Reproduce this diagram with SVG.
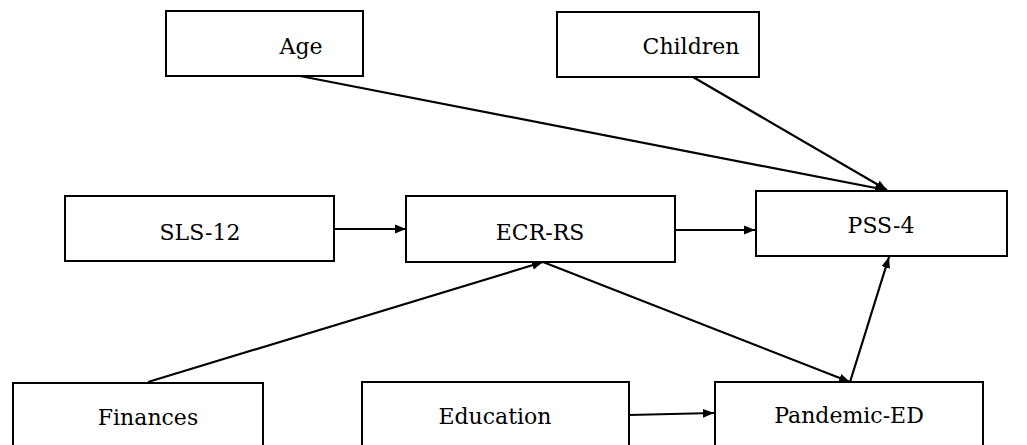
<svg xmlns="http://www.w3.org/2000/svg" width="1027" height="445" viewBox="0 0 1027 445">
  <style>
    .box { fill: #ffffff; stroke: #000000; stroke-width: 2; }
    .lbl { font-family: "DejaVu Serif", "Liberation Serif", serif; font-size: 22px; fill: #000000; text-anchor: middle; }
    .edge { stroke: #000000; stroke-width: 2.2; fill: none; marker-end: url(#arrow); }
  </style>
  <defs>
    <marker id="arrow" viewBox="0 0 10 10" refX="10" refY="5" markerWidth="5" markerHeight="5" orient="auto" markerUnits="strokeWidth">
      <path d="M0,1 L10,5 L0,9 z" fill="#000000"/>
    </marker>
  </defs>
  <rect width="1027" height="445" fill="#ffffff"/>

  <g id="connectors">
    <line class="edge" x1="300" y1="76" x2="886" y2="190"/>
    <line class="edge" x1="693" y1="77" x2="887" y2="190"/>
    <line class="edge" x1="334" y1="229" x2="406" y2="229"/>
    <line class="edge" x1="675" y1="230" x2="755" y2="230"/>
    <line class="edge" x1="148" y1="382" x2="543" y2="262"/>
    <line class="edge" x1="543" y1="262" x2="850" y2="382"/>
    <line class="edge" x1="850" y1="382" x2="889" y2="257"/>
    <line class="edge" x1="629" y1="415" x2="714" y2="413"/>
  </g>

  <g id="age">
    <rect class="box" x="166" y="11" width="197" height="65"/>
    <text class="lbl" x="301" y="54">Age</text>
  </g>
  <g id="children">
    <rect class="box" x="557" y="12" width="202" height="65"/>
    <text class="lbl" x="691" y="54">Children</text>
  </g>
  <g id="sls12">
    <rect class="box" x="65" y="196" width="269" height="65"/>
    <text class="lbl" x="200" y="240">SLS-12</text>
  </g>
  <g id="ecrrs">
    <rect class="box" x="406" y="196" width="269" height="66"/>
    <text class="lbl" x="540" y="240">ECR-RS</text>
  </g>
  <g id="pss4">
    <rect class="box" x="756" y="191" width="251" height="65"/>
    <text class="lbl" x="881" y="233">PSS-4</text>
  </g>
  <g id="finances">
    <rect class="box" x="13" y="383" width="250" height="80"/>
    <text class="lbl" x="148" y="425">Finances</text>
  </g>
  <g id="education">
    <rect class="box" x="362" y="382" width="267" height="80"/>
    <text class="lbl" x="495" y="424">Education</text>
  </g>
  <g id="pandemic">
    <rect class="box" x="715" y="382" width="268" height="80"/>
    <text class="lbl" x="849" y="423">Pandemic-ED</text>
  </g>
</svg>
